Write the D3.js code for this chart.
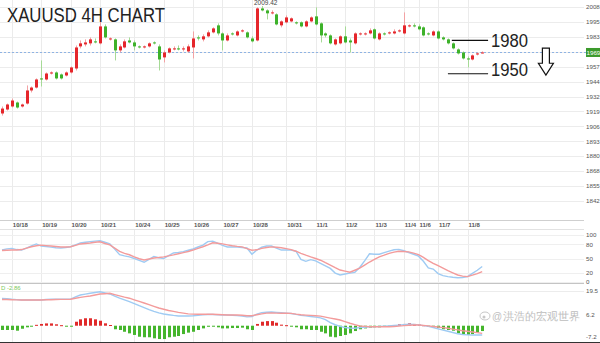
<!DOCTYPE html>
<html>
<head>
<meta charset="utf-8">
<script src="https://cdn.jsdelivr.net/npm/d3@7"></script>
<style>
  html, body { margin: 0; padding: 0; background: #fff; }
  svg { display: block; }
  text { font-family: "Liberation Sans", Arial, sans-serif; }
</style>
</head>
<body>
<svg id="chart" width="600" height="343"></svg>
<script>
// ---- data ----
const dateLabels = ['10/18','10/19','10/20','10/21','10/24','10/25','10/26','10/27','10/28','10/31','11/1','11/2','11/3','11/4','11/6','11/7','11/8']
const dateIndex = [2, 8, 14, 20, 27, 33, 39, 45, 51, 58, 64, 70, 76, 82, 85, 89, 95]

const open = [1917.5,1920.9,1923.5,1926.9,1923.5,1926.0,1937.2,1939.7,1947.5,1946.6,
  1951.7,1952.6,1950.9,1950.0,1952.6,1956.0,1974.9,1976.6,1977.5,1979.2,
  1977.5,1992.0,1980.9,1980.9,1971.5,1974.0,1980.0,1978.3,1974.9,1974.0,
  1974.9,1978.3,1974.9,1965.5,1969.7,1972.3,1973.2,1972.3,1970.6,1974.0,
  1982.6,1980.9,1983.5,1986.9,1992.9,1986.0,1980.0,1986.0,1984.3,1987.7,
  1986.9,1981.7,1980.0,2007.4,2005.7,2003.2,2002.3,1992.9,1995.5,1996.3,
  1995.5,1995.5,1992.0,1996.3,2000.6,1994.6,1986.0,1984.3,1976.6,1977.5,
  1983.5,1980.0,1977.5,1985.2,1985.2,1986.0,1989.5,1980.9,1986.0,1986.0,
  1986.0,1987.7,1986.0,1992.0,1992.9,1992.0,1991.2,1986.0,1984.3,1987.7,
  1982.6,1980.9,1977.5,1972.3,1969.7,1964.6,1963.7,1968.0,1968.9]
const high = [1923.5,1926.0,1930.3,1927.7,1926.0,1941.5,1940.6,1947.5,1962.9,1952.6,
  1953.5,1953.5,1951.7,1953.5,1957.7,1975.7,1980.0,1980.9,1982.6,1981.7,
  1997.2,1993.7,1982.6,1981.7,1976.6,1980.9,1982.6,1980.0,1975.7,1975.7,
  1978.3,1979.2,1976.6,1971.5,1974.0,1974.9,1975.7,1974.9,1976.6,1987.7,
  1984.3,1985.2,1988.6,1991.2,1994.6,1986.9,1986.0,1986.9,1988.6,1989.5,
  1987.7,1983.5,2008.3,2009.42,2006.6,2005.7,2003.2,1997.2,2001.4,1999.7,
  1996.3,1996.3,1997.2,2000.6,2008.3,1995.5,1986.9,1985.2,1981.7,1984.3,
  1992.0,1981.7,1986.9,1986.9,1986.9,1990.3,1990.3,1986.9,1986.9,1987.7,
  1989.5,1989.5,2004.0,1993.7,1994.6,1993.7,1992.0,1986.9,1988.6,1988.6,
  1983.5,1981.7,1978.3,1973.2,1970.6,1966.3,1968.0,1969.7,1970.6]
const low = [1915.7,1920.0,1922.6,1921.7,1922.6,1925.2,1935.5,1938.9,1940.6,1945.7,
  1950.9,1946.6,1946.6,1949.2,1951.7,1954.3,1973.2,1974.9,1975.7,1977.5,
  1976.6,1981.7,1980.0,1962.9,1969.7,1973.2,1977.5,1971.5,1973.2,1973.2,
  1974.0,1976.6,1954.3,1961.2,1968.9,1971.5,1971.5,1970.6,1969.7,1964.6,
  1980.0,1979.2,1982.6,1986.0,1984.3,1971.5,1979.2,1984.3,1983.5,1986.9,
  1981.7,1978.3,1979.2,2004.9,1998.0,2002.3,1992.9,1991.2,1994.6,1995.5,
  1993.7,1991.2,1991.2,1995.5,1992.9,1978.3,1982.6,1976.6,1975.7,1976.6,
  1977.5,1969.7,1976.6,1984.3,1984.3,1985.2,1980.9,1980.0,1984.3,1985.2,
  1985.2,1986.9,1985.2,1991.2,1991.2,1988.6,1983.5,1984.3,1983.5,1980.9,
  1980.0,1976.6,1972.3,1968.0,1963.7,1956.9,1962.9,1967.2,1968.9]
const close = [1921.7,1925.2,1928.6,1922.6,1925.2,1937.2,1939.7,1946.6,1946.6,1951.7,
  1952.6,1947.5,1947.5,1952.6,1956.9,1974.0,1977.5,1978.3,1980.9,1978.3,
  1992.0,1982.6,1981.7,1971.5,1974.9,1979.2,1978.3,1974.9,1974.0,1974.9,
  1977.5,1977.5,1963.7,1969.7,1973.2,1973.2,1972.3,1973.2,1974.9,1981.7,
  1981.7,1983.5,1986.9,1990.3,1986.0,1980.0,1984.3,1985.2,1987.7,1988.6,
  1982.6,1979.2,2007.4,2005.7,2003.2,2004.0,1993.7,1996.3,1999.7,1998.9,
  1994.6,1992.0,1996.3,1999.7,1993.7,1984.3,1984.3,1977.5,1980.9,1983.5,
  1978.3,1978.3,1986.0,1986.0,1986.0,1988.6,1981.7,1986.0,1985.2,1986.9,
  1987.7,1988.6,1992.9,1992.9,1992.0,1989.5,1984.3,1985.2,1987.7,1981.7,
  1980.9,1977.5,1973.2,1968.9,1964.6,1963.7,1967.2,1968.9,1969.7]

const stochK = [68,70.5,71.5,69,68,72,77,81,76.5,75.5,74.3,73,72.5,73.5,75,79,83,84.5,85.8,87,
  88,84.5,81,70,58,55.5,53.5,50,46,42,48,54.5,51.5,50,56,61.8,63,64.6,67.5,70.2,
  74.5,78.5,86,87,82.5,78,74.5,74.5,74.4,73.4,72.3,59,68,74,76.5,76.6,72,68,68,67.8,
  65.5,48,44,47.5,45,39.8,34.5,29,19,15,17,19,20.5,31,45,60,59,59,62.5,65.7,
  68.5,69.5,66.5,62.7,59,55,44,30,27.5,18,13.5,11.5,10,9,9.5,11.5,18.5,25,33]
const stochD = [67,67.5,68,68,69,72,75,77,78.5,77.5,76.5,75.5,74.5,74.5,75,78,81,82,83,84.5,
  85.7,82,79,72,65,61,58,53.5,49.5,47,49,51,52,53.4,55.5,57.6,60,62.4,65,68,
  71.5,75,79,83.4,82.5,81,79,77,75.7,74.7,71,67.5,68.5,71.5,73.3,74.7,74,72.8,71,69,
  65.5,61,57,53.3,50,46.3,41,36,30.6,25.5,23,20.7,25,29.5,36,42.5,48,53.4,57,61,
  63.5,65.5,65,64,61.5,58.4,52.5,45.6,39.8,34.6,29.3,24,19.4,14.9,12.4,11.5,14.5,18,22]

const macdDif = [15.4,15.2,14.9,14.7,14.5,14.5,14.5,14.5,14.5,14.8,15.0,14.9,14.9,14.9,15.0,16.2,17.3,17.8,18.3,18.7,
  19.15,18.5,17.9,16.7,15.5,14.6,13.6,12.5,11.3,10.2,9.1,8.1,7.2,6.6,6.2,5.8,5.5,5.46,5.46,5.6,
  5.9,6.1,6.3,6.3,6.1,6.0,6.0,5.9,5.7,5.4,5.0,5.2,6.5,7.4,7.6,7.7,7.5,7.3,7.1,6.9,
  6.4,5.85,5.55,5.2,4.85,4.4,3.4,1.8,0.55,-0.4,-1.0,-1.3,-1.4,-1.1,-0.85,-0.65,-0.5,-0.4,-0.25,-0.08,
  0.12,0.33,0.6,0.9,0.75,0.5,0.05,-0.4,-1.0,-1.75,-2.45,-3.1,-3.8,-4.5,-4.95,-5.15,-5.24,-5.24,-5.24]
const macdDea = [14.8,14.75,14.65,14.55,14.48,14.48,14.48,14.48,14.5,14.6,14.65,14.8,14.87,14.87,14.9,15.5,16.0,16.4,16.75,17.3,
  17.86,18.05,18.25,17.5,16.8,16.1,15.5,14.6,13.7,12.8,11.85,10.9,10.0,9.3,8.6,8.05,7.5,7.1,6.7,6.55,
  6.45,6.45,6.55,6.5,6.3,6.15,6.05,6.03,6.03,5.9,5.6,5.6,6.2,6.7,7.1,7.25,7.1,7.0,7.0,6.95,
  6.5,6.15,5.95,5.8,5.6,5.4,4.85,4.3,3.8,3.2,2.3,1.4,0.6,-0.15,-0.35,-0.55,-0.56,-0.56,-0.56,-0.56,
  -0.4,-0.2,0.05,0.3,0.39,0.39,0.2,-0.07,-0.4,-0.75,-1.05,-1.4,-1.9,-2.35,-2.8,-3.15,-3.55,-3.9,-4.3]
const macdHist = [-2.4,-2.4,-2.4,-2.8,-1.7,-0.9,-0.5,0.5,1.0,1.3,1.3,0.8,0.3,-0.3,-0.3,2.25,3.6,4.2,4.2,3.6,
  2.8,1.35,0.4,-2.0,-2.4,-3.4,-4.3,-5.2,-6.2,-6.5,-6.5,-7.1,-7.5,-7.5,-6.5,-6.2,-5.8,-4.7,-3.9,-3.4,
  -2.4,-1.5,-0.6,-0.3,-0.9,-1.5,-1.5,-1.3,-1.3,-1.1,-2.0,-2.4,1.0,2.25,2.6,2.6,1.7,0.6,0.3,-0.3,
  -0.9,-2.0,-2.0,-2.4,-2.4,-3.4,-4.3,-6.2,-6.5,-5.8,-5.2,-4.3,-3.0,-2.0,-1.5,-1.1,-0.9,-0.9,-0.6,-0.4,
  0.3,0.8,1.0,1.35,1.0,0.6,0.3,-0.5,-0.9,-1.3,-2.0,-2.4,-2.8,-4.3,-5.2,-5.2,-4.7,-3.9,-3.0]

const priceTicks = [2008.62,1995.85,1983.08,1970.31,1957.54,1944.77,1932.0,1919.23,1906.46,1893.69,1880.92,1868.15,1855.38,1842.61]
const stochTicks = [100, 80, 50, 20, 0]
const macdTicks = [19.5, 6.2, -7.2]
const lastPrice = 1969.70
const levelLabels = ['1980', '1950']
const levelValues = [1980, 1951.5]
const title = 'XAUUSD 4H CHART'
const macdLabel = 'D -2.86'
const watermark = '洪浩的宏观世界'

// ---- layout ----
const svg = d3.select('#chart')
const plotRight = 584
const axisX = 586
const step = 4.9
const nSlots = 119
const main = { top: 0, bottom: 220 }
const stoch = { top: 230, bottom: 283.5 }
const macd = { top: 284, bottom: 342 }

const xi = d3.scaleLinear().domain([0, nSlots]).range([-0.45, -0.45 + step * nSlots])
const xc = (i) => xi(i + 0.5)
const y = d3.scaleLinear().domain([priceTicks[priceTicks.length - 1], priceTicks[0]]).range([201, 7])
const yS = d3.scaleLinear().domain([0, 100]).range([282, 235])
const yM = d3.scaleLinear().domain([-7.2, 19.56]).range([338.5, 291])

const candles = open.map((o, i) => ({ i, o, h: high[i], l: low[i], c: close[i] }))
const UP = '#e5262b', DOWN = '#3db22a'
const UP_WICK = '#f3a2a4', DOWN_WICK = '#a6da96'
const BLUE = '#9fcbf3', PINK = '#f39b9b'
const axisFont = 6.2

// grid: horizontal price lines
svg.append('g')
  .selectAll('line')
  .data(priceTicks)
  .join('line')
  .attr('x1', 0).attr('x2', plotRight)
  .attr('y1', (d) => Math.round(y(d)) + 0.5).attr('y2', (d) => Math.round(y(d)) + 0.5)
  .attr('stroke', '#ececec')

// grid: vertical day lines (main + lower panels)
const vgrid = svg.append('g').attr('stroke', '#ebebeb')
vgrid.selectAll('.vmain')
  .data(dateIndex)
  .join('line')
  .attr('x1', (d) => Math.round(xc(d)) + 0.5).attr('x2', (d) => Math.round(xc(d)) + 0.5)
  .attr('y1', main.top).attr('y2', main.bottom)
vgrid.selectAll('.vlow')
  .data(dateIndex)
  .join('line')
  .attr('class', 'vlow')
  .attr('x1', (d) => Math.round(xc(d)) + 0.5).attr('x2', (d) => Math.round(xc(d)) + 0.5)
  .attr('y1', stoch.top).attr('y2', macd.bottom)

// stochastic grid
svg.append('g')
  .selectAll('line')
  .data(stochTicks)
  .join('line')
  .attr('x1', 0).attr('x2', plotRight)
  .attr('y1', (d) => Math.round(yS(d)) + 0.5).attr('y2', (d) => Math.round(yS(d)) + 0.5)
  .attr('stroke', '#efefef')

// panel frames
svg.append('line').attr('x1', 0).attr('x2', plotRight).attr('y1', main.bottom + 0.5).attr('y2', main.bottom + 0.5).attr('stroke', '#cfcfcf')
svg.append('line').attr('x1', 0).attr('x2', plotRight).attr('y1', stoch.top - 0.5).attr('y2', stoch.top - 0.5).attr('stroke', '#e2e2e2')
svg.append('line').attr('x1', 0).attr('x2', plotRight).attr('y1', stoch.bottom).attr('y2', stoch.bottom).attr('stroke', '#c4c4c4')
svg.append('line').attr('x1', 0).attr('x2', plotRight).attr('y1', Math.round(yM(19.56)) + 0.5).attr('y2', Math.round(yM(19.56)) + 0.5).attr('stroke', '#ececec')
svg.append('line').attr('x1', 0).attr('x2', 600).attr('y1', 342.5).attr('y2', 342.5).attr('stroke', '#333')

// date labels
svg.append('g')
  .selectAll('text')
  .data(dateLabels)
  .join('text')
  .attr('x', (d, k) => xc(dateIndex[k]) + 1)
  .attr('y', 227)
  .attr('font-size', 6)
  .attr('font-weight', 'bold')
  .attr('fill', '#555')
  .text((d) => d)

// right axis labels
svg.append('g')
  .selectAll('text')
  .data(priceTicks)
  .join('text')
  .attr('x', axisX)
  .attr('y', (d) => y(d) + 2.2)
  .attr('font-size', axisFont)
  .attr('fill', '#555')
  .text((d) => Math.floor(d))

svg.append('g')
  .selectAll('text')
  .data(stochTicks)
  .join('text')
  .attr('x', axisX)
  .attr('y', (d) => yS(d) + 2.2)
  .attr('font-size', axisFont)
  .attr('fill', '#555')
  .text((d) => d)

svg.append('g')
  .selectAll('text')
  .data(macdTicks)
  .join('text')
  .attr('x', axisX)
  .attr('y', (d, k) => yM(d) + (k === 2 ? 0.5 : 2.2))
  .attr('font-size', axisFont)
  .attr('fill', '#555')
  .text((d) => d.toFixed(1))

// current price line + badge
svg.append('line')
  .attr('x1', 0).attr('x2', axisX)
  .attr('y1', Math.round(y(lastPrice)) + 0.5).attr('y2', Math.round(y(lastPrice)) + 0.5)
  .attr('stroke', '#8fb3e3')
  .attr('stroke-dasharray', '2,2')
svg.append('rect')
  .attr('x', axisX).attr('y', y(lastPrice) - 4.5)
  .attr('width', 14).attr('height', 9)
  .attr('fill', '#3c9a2c')
svg.append('text')
  .attr('x', axisX + 0.5).attr('y', y(lastPrice) + 2.2)
  .attr('font-size', axisFont)
  .attr('fill', '#fff')
  .text(Math.floor(lastPrice))

// candles
const cg = svg.append('g')
cg.selectAll('.wick')
  .data(candles)
  .join('line')
  .attr('class', 'wick')
  .attr('x1', (d) => Math.round(xc(d.i)) + 0.5).attr('x2', (d) => Math.round(xc(d.i)) + 0.5)
  .attr('y1', (d) => y(d.h)).attr('y2', (d) => y(d.l))
  .attr('stroke', (d) => (d.c >= d.o ? UP_WICK : DOWN_WICK))
cg.selectAll('.body')
  .data(candles)
  .join('rect')
  .attr('class', 'body')
  .attr('x', (d) => Math.round(xc(d.i)) - 1)
  .attr('width', 3)
  .attr('y', (d) => y(Math.max(d.o, d.c)))
  .attr('height', (d) => Math.max(1, Math.abs(y(d.o) - y(d.c))))
  .attr('fill', (d) => (d.c >= d.o ? UP : DOWN))

// high marker
const hiIdx = d3.maxIndex(high)
svg.append('text')
  .attr('x', xc(hiIdx) + 4)
  .attr('y', y(high[hiIdx]) - 1)
  .attr('text-anchor', 'middle')
  .attr('font-size', 6.5)
  .attr('fill', '#444')
  .text(high[hiIdx].toFixed(2))

// title
svg.append('text')
  .attr('x', 7).attr('y', 22)
  .attr('font-family', 'Lato, "Open Sans", sans-serif')
  .attr('font-size', 19.5)
  .attr('fill', '#222')
  .attr('textLength', 158)
  .attr('lengthAdjust', 'spacingAndGlyphs')
  .text(title)

// support / resistance annotations
const ann = svg.append('g')
ann.selectAll('line')
  .data(levelValues)
  .join('line')
  .attr('x1', (d, k) => xi(k === 0 ? 92.3 : 91.5)).attr('x2', xi(99.7))
  .attr('y1', (d) => y(d)).attr('y2', (d) => y(d))
  .attr('stroke', '#111').attr('stroke-width', 1.2)
ann.selectAll('text')
  .data(levelLabels)
  .join('text')
  .attr('x', xi(100.3))
  .attr('y', (d, k) => y(levelValues[k]) + (k === 0 ? 6.5 : 2))
  .attr('font-family', 'Lato, sans-serif')
  .attr('font-size', 18)
  .attr('fill', '#222')
  .attr('textLength', 37)
  .attr('lengthAdjust', 'spacingAndGlyphs')
  .text((d) => d)

// down arrow (outline)
const ax = xi(111.5), aTop = y(1973.5), aNeck = y(1960.5), aTip = y(1950.3)
ann.append('path')
  .attr('d', `M${ax - 3.5},${aTop} H${ax + 3.5} V${aNeck} H${ax + 7.5} L${ax},${aTip} L${ax - 7.5},${aNeck} H${ax - 3.5} Z`)
  .attr('fill', '#fff')
  .attr('stroke', '#111')
  .attr('stroke-width', 1.2)

// stochastic lines
const sLine = d3.line().x((d, i) => xc(i)).y((d) => yS(d))
svg.append('path').datum(stochK).attr('d', sLine).attr('fill', 'none').attr('stroke', BLUE).attr('stroke-width', 1.4)
svg.append('path').datum(stochD).attr('d', sLine).attr('fill', 'none').attr('stroke', PINK).attr('stroke-width', 1.4)

// MACD histogram
svg.append('g')
  .selectAll('rect')
  .data(macdHist)
  .join('rect')
  .attr('x', (d, i) => Math.round(xc(i)) - 1)
  .attr('width', 3)
  .attr('y', (d) => Math.min(yM(d), yM(0)))
  .attr('height', (d) => Math.max(1, Math.abs(yM(d) - yM(0))))
  .attr('fill', (d) => (d >= 0 ? '#e02a2a' : '#45b52c'))

// MACD lines
const mLine = d3.line().x((d, i) => xc(i)).y((d) => yM(d))
svg.append('path').datum(macdDif).attr('d', mLine).attr('fill', 'none').attr('stroke', BLUE).attr('stroke-width', 1.4)
svg.append('path').datum(macdDea).attr('d', mLine).attr('fill', 'none').attr('stroke', PINK).attr('stroke-width', 1.4)

svg.append('text')
  .attr('x', 1).attr('y', 290)
  .attr('font-size', 6)
  .attr('fill', '#7cc95e')
  .text(macdLabel)

// watermark
const wm = svg.append('g').attr('opacity', 0.75)
wm.append('ellipse').attr('cx', 485).attr('cy', 316).attr('rx', 5).attr('ry', 4)
  .attr('fill', 'none').attr('stroke', '#b5b5b5').attr('stroke-width', 1)
wm.append('circle').attr('cx', 484).attr('cy', 317).attr('r', 1.5).attr('fill', '#b5b5b5')
wm.append('text').attr('x', 492).attr('y', 319.5)
  .attr('font-size', 10).attr('fill', '#aaa').text('@')
wm.append('text').attr('x', 503).attr('y', 320)
  .attr('font-family', '"Noto Sans CJK SC", sans-serif')
  .attr('font-size', 11)
  .attr('fill', '#a8a8a8')
  .text(watermark)
</script>
</body>
</html>
